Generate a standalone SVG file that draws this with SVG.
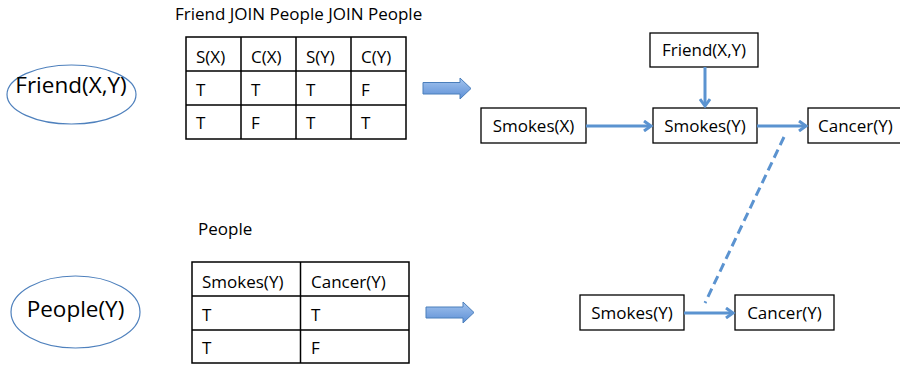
<svg xmlns="http://www.w3.org/2000/svg" width="900" height="365" viewBox="0 0 900 365">
<defs>
<style>
text{font-family:"Open Sans","Noto Sans","Liberation Sans",sans-serif;fill:#000}
.t{font-size:17px}
.big{font-size:22.5px}
.cell{fill:#fff;stroke:#000;stroke-width:1.5}
.box{fill:#fff;stroke:#000;stroke-width:1.3}
.ell{fill:#fff;stroke:#4f81bd;stroke-width:1.2}
.conn{fill:none;stroke:#5b93d0;stroke-width:3}
.dash{fill:none;stroke:#5b93d0;stroke-width:3;stroke-dasharray:9,5}
.blk{fill:url(#g);stroke:#4a7ebb;stroke-width:1}
</style>
<linearGradient id="g" x1="0" y1="0" x2="0" y2="1">
<stop offset="0" stop-color="#a3c4ee"/>
<stop offset="1" stop-color="#5d8fd6"/>
</linearGradient>
<marker id="ah" markerWidth="12" markerHeight="12" refX="9" refY="6" orient="auto" markerUnits="userSpaceOnUse">
<polyline points="2,1 9,6 2,11" fill="none" stroke="#5b93d0" stroke-width="3"/>
</marker>
</defs>

<g id="friend-ellipse">
<ellipse class="ell" cx="71.5" cy="94.5" rx="64.5" ry="29.5"/>
<text class="big" x="71" y="93" text-anchor="middle">Friend(X,Y)</text>
</g>

<g id="join-table">
<text class="t" x="175" y="20">Friend JOIN People JOIN People</text>
<rect class="cell" x="186" y="37" width="220" height="102"/>
<path class="cell" d="M241,37V139M296,37V139M351,37V139M186,71H406M186,105H406"/>
<text class="t" x="196" y="63">S(X)</text>
<text class="t" x="251" y="63">C(X)</text>
<text class="t" x="306" y="63">S(Y)</text>
<text class="t" x="361" y="63">C(Y)</text>
<text class="t" x="196" y="96">T</text>
<text class="t" x="251" y="96">T</text>
<text class="t" x="306" y="96">T</text>
<text class="t" x="361" y="96">F</text>
<text class="t" x="196" y="129">T</text>
<text class="t" x="251" y="129">F</text>
<text class="t" x="306" y="129">T</text>
<text class="t" x="361" y="129">T</text>
</g>

<g id="block-arrow-1">
<path class="blk" d="M423,82.5H460V78L471,88.5L460,99V94H423Z"/>
</g>

<g id="people-ellipse">
<ellipse class="ell" cx="75.5" cy="312" rx="64.5" ry="36"/>
<text class="big" x="75.5" y="317" text-anchor="middle">People(Y)</text>
</g>

<g id="people-table">
<text class="t" x="198" y="235">People</text>
<rect class="cell" x="192" y="262" width="217" height="101"/>
<path class="cell" d="M300.5,262V363M192,296H409M192,330H409"/>
<text class="t" x="202" y="288">Smokes(Y)</text>
<text class="t" x="311" y="288">Cancer(Y)</text>
<text class="t" x="202" y="321">T</text>
<text class="t" x="311" y="321">T</text>
<text class="t" x="202" y="354">T</text>
<text class="t" x="311" y="354">F</text>
</g>

<g id="block-arrow-2">
<path class="blk" d="M426,307H463V302L474,312.5L463,323V318H426Z"/>
</g>

<g id="node-friend-xy">
<rect class="box" x="650" y="33" width="108" height="34"/>
<text class="t" x="704" y="56" text-anchor="middle">Friend(X,Y)</text>
</g>
<g id="node-smokes-x">
<rect class="box" x="481" y="108" width="105" height="35"/>
<text class="t" x="533.5" y="131.5" text-anchor="middle">Smokes(X)</text>
</g>
<g id="node-smokes-y-top">
<rect class="box" x="653" y="108" width="104" height="35"/>
<text class="t" x="705" y="131.5" text-anchor="middle">Smokes(Y)</text>
</g>
<g id="node-cancer-y-top">
<rect class="box" x="808" y="108" width="94" height="35"/>
<text class="t" x="818" y="131.5">Cancer(Y)</text>
</g>
<g id="node-smokes-y-bottom">
<rect class="box" x="580" y="295" width="104" height="35"/>
<text class="t" x="632" y="318.5" text-anchor="middle">Smokes(Y)</text>
</g>
<g id="node-cancer-y-bottom">
<rect class="box" x="735" y="295" width="99" height="35"/>
<text class="t" x="784.5" y="318.5" text-anchor="middle">Cancer(Y)</text>
</g>

<g id="connectors">
<line class="conn" x1="586" y1="126" x2="651" y2="126" marker-end="url(#ah)"/>
<line class="conn" x1="705" y1="67" x2="705" y2="106" marker-end="url(#ah)"/>
<line class="conn" x1="757" y1="126" x2="806" y2="126" marker-end="url(#ah)"/>
<line class="conn" x1="684" y1="313" x2="733" y2="313" marker-end="url(#ah)"/>
<line class="dash" x1="784" y1="137" x2="705" y2="303"/>
</g>
</svg>
